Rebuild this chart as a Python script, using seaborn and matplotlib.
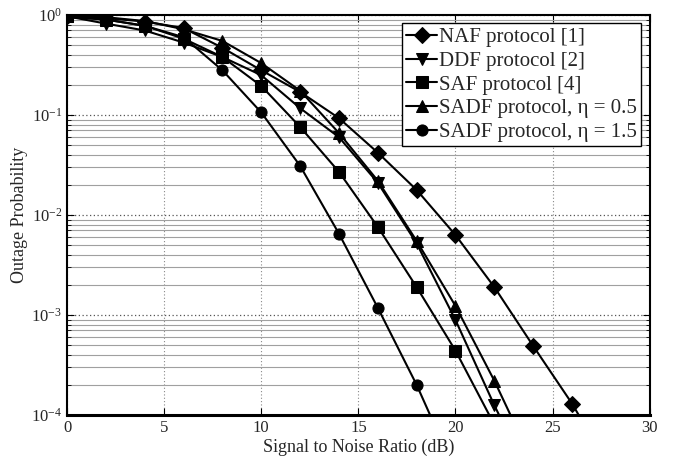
import matplotlib
matplotlib.use('Agg')
import matplotlib.pyplot as plt
import seaborn as sns
import pandas as pd
import numpy as np
from matplotlib.ticker import LogLocator, NullFormatter, MultipleLocator

# DATA ---------------------------------------------------------------------------

snr_db = [0, 2, 4, 6, 8, 10, 12, 14, 16, 18, 20, 22, 24, 26, 28]

naf = [0.98, 0.93, 0.86, 0.74, 0.47, 0.28, 0.17, 0.093, 0.042, 0.0178, 0.0063, 0.0019, 4.9e-4, 1.3e-4, 2.8e-5]
ddf = [0.97, 0.82, 0.70, 0.53, 0.38, 0.25, 0.117, 0.06, 0.021, 0.0052, 8.9e-4, 1.25e-4, 2.0e-5]
saf = [0.97, 0.90, 0.78, 0.58, 0.38, 0.195, 0.076, 0.027, 0.0076, 0.0019, 4.4e-4, 8.0e-5]
sadf_05 = [0.98, 0.95, 0.87, 0.72, 0.55, 0.33, 0.175, 0.066, 0.022, 0.0055, 0.00123, 2.2e-4, 3.3e-5]
sadf_15 = [0.95, 0.90, 0.78, 0.60, 0.28, 0.106, 0.031, 0.0065, 0.00118, 2.0e-4, 2.7e-5]

labels = ['NAF protocol [1]', 'DDF protocol [2]', 'SAF protocol [4]',
          'SADF protocol, η = 0.5', 'SADF protocol, η = 1.5']
series = [naf, ddf, saf, sadf_05, sadf_15]
marker_list = ['D', 'v', 's', '^', 'o']

# BUILD LONG DATAFRAME -----------------------------------------------------------

frames = []
for lab, vals in zip(labels, series):
    frames.append(pd.DataFrame({'snr': snr_db[:len(vals)], 'outage': vals, 'protocol': lab}))
df = pd.concat(frames, ignore_index=True)

# PLOT ---------------------------------------------------------------------------

sns.set_style('ticks')
plt.rcParams['font.family'] = ['Liberation Serif', 'DejaVu Serif']
plt.rcParams['mathtext.fontset'] = 'custom'
plt.rcParams['mathtext.rm'] = 'Liberation Serif'
plt.rcParams['mathtext.it'] = 'Liberation Serif:italic'

fig = plt.figure(figsize=(6.81, 4.61), dpi=100)
ax = fig.add_axes([0.0984, 0.0998, 0.8557, 0.8677])

# grid first so data sits on top
ax.set_yscale('log')
ax.set_xlim(0, 30)
ax.set_ylim(1e-4, 1)
ax.yaxis.set_major_locator(LogLocator(base=10, numticks=10))
ax.yaxis.set_minor_locator(LogLocator(base=10, subs=np.arange(2, 10), numticks=20))
ax.yaxis.set_minor_formatter(NullFormatter())
ax.xaxis.set_major_locator(MultipleLocator(5))
ax.grid(which='minor', axis='y', color='#a0a0a0', linestyle='-', linewidth=0.8)
ax.grid(which='major', axis='y', color='#555555', linestyle=(0, (1, 2)), linewidth=0.9)
ax.grid(which='major', axis='x', color='#888888', linestyle=(0, (1, 2)), linewidth=0.8)
ax.set_axisbelow(True)

sns.lineplot(data=df, x='snr', y='outage', style='protocol', style_order=labels,
             markers=dict(zip(labels, marker_list)), dashes=False, color='black',
             linewidth=1.5, markersize=8, markeredgecolor='black', ax=ax)

ax.set_xlim(0, 30)
ax.set_ylim(1e-4, 1)

ax.tick_params(which='both', direction='in', top=True, right=True, labelsize=12, color='black')
ax.tick_params(which='major', length=5)
ax.tick_params(which='minor', length=3)
for sp in ax.spines.values():
    sp.set_linewidth(1.5)
    sp.set_color('black')
ax.spines['bottom'].set_linewidth(2.2)

ax.set_xlabel('Signal to Noise Ratio (dB)', fontsize=13, labelpad=2)
ax.set_ylabel('Outage Probability', fontsize=13, labelpad=2)

handles, labs = ax.get_legend_handles_labels()
leg = ax.legend(handles, labs, loc='upper right', fontsize=15, frameon=True, fancybox=False,
                edgecolor='black', framealpha=1, handlelength=1.5, handletextpad=0.1,
                borderpad=0.2, labelspacing=0.2, borderaxespad=0.4)
leg.get_frame().set_linewidth(1.0)

plt.savefig('out.png', dpi=100)
